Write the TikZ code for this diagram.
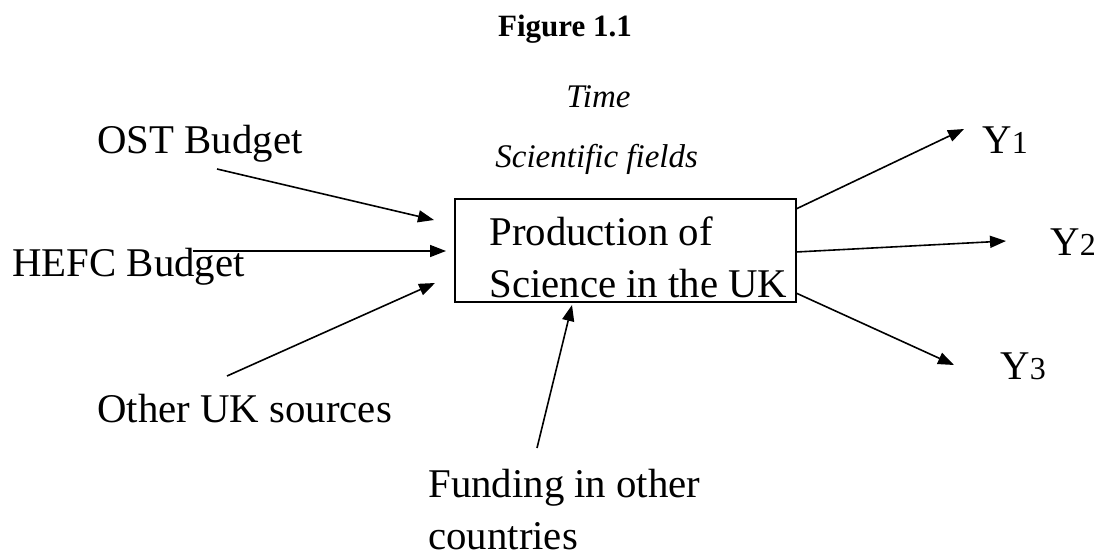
\documentclass[tikz,border=0pt]{standalone}
\usepackage{fontspec}
\setmainfont{Liberation Serif}
\usetikzlibrary{arrows.meta, positioning}

\begin{document}
\begin{tikzpicture}[
        x=0.5pt, y=-0.5pt,
        txt/.style={inner sep=0pt, anchor=base west,
                    font=\fontsize{20.4}{26}\selectfont},
        note/.style={inner sep=0pt, anchor=base west,
                     font=\fontsize{16.5}{20}\selectfont\itshape},
        box/.style={draw, line width=0.7pt, inner sep=0pt,
                    minimum width=170.5pt, minimum height=51.5pt},
        arrow/.style={-{Triangle[length=8pt, width=6pt]}, line width=0.8pt},
    ]
        \useasboundingbox (0,0) rectangle (1096,556);

        % title and side notes
        \node[inner sep=0pt, anchor=base, font=\fontsize{15.5}{18}\selectfont\bfseries]
            (title) at (565,37) {Figure 1.1};
        \node[note] (time) at (566,107) {Time};
        \node[note] (fields) at (495,167) {Scientific fields};

        % central box (base of a two-line node = last line)
        \node[box] (prod) at (625.5,250.5) {};
        \node[txt, align=left] (prodtext) at (489,297) {Production of\\Science in the UK};

        % inputs
        \node[txt] (ost) at (97,153) {OST Budget};
        \node[txt] (hefc) at (12,276) {HEFC Budget};
        \node[txt] (other) at (97,422) {Other UK sources};
        \node[txt, align=left] (abroad) at (428,549) {Funding in other\\countries};

        % outputs
        \node[txt] (y1) at (982,153) {Y{\fontsize{16}{16}\selectfont 1}};
        \node[txt] (y2) at (1050,255) {Y{\fontsize{16}{16}\selectfont 2}};
        \node[txt] (y3) at (1000,379) {Y{\fontsize{16}{16}\selectfont 3}};

        \coordinate (ostTail) at (217,169);
        \coordinate (ostTip) at (434,220);
        \coordinate (hefcTail) at (193,251);
        \coordinate (hefcTip) at (446,251);
        \coordinate (otherTail) at (227,376);
        \coordinate (otherTip) at (435,283);
        \coordinate (abroadTail) at (537,448);
        \coordinate (abroadTip) at (572,305);

        \coordinate (y1Tail) at (796,209);
        \coordinate (y1Tip) at (964,129);
        \coordinate (y2Tail) at (796,252);
        \coordinate (y2Tip) at (1006,241);
        \coordinate (y3Tail) at (796,293);
        \coordinate (y3Tip) at (954,365);

        \draw[arrow] (ostTail) -- (ostTip);
        \draw[arrow] (hefcTail) -- (hefcTip);
        \draw[arrow] (otherTail) -- (otherTip);
        \draw[arrow] (abroadTail) -- (abroadTip);

        \draw[arrow] (y1Tail) -- (y1Tip);
        \draw[arrow] (y2Tail) -- (y2Tip);
        \draw[arrow] (y3Tail) -- (y3Tip);

    \end{tikzpicture}
\end{document}
